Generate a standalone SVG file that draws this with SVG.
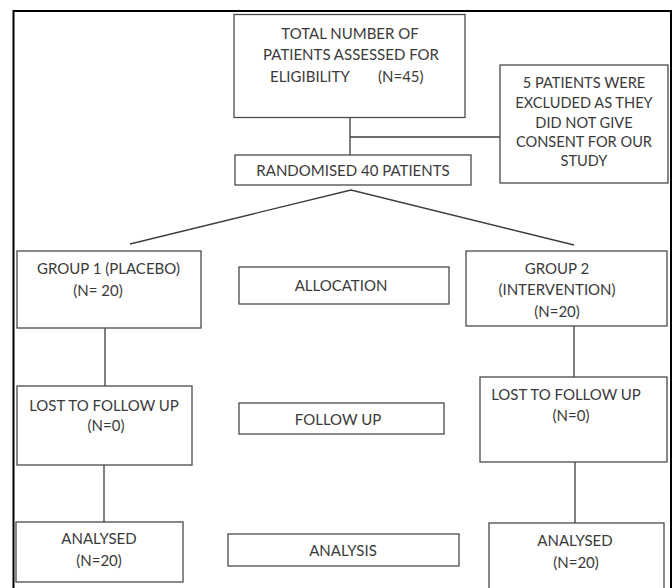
<svg xmlns="http://www.w3.org/2000/svg" width="672" height="588" viewBox="0 0 672 588">
<style>
  .box{fill:#ffffff;stroke:#4a4a4a;stroke-width:1.3}
  .t{font-family:Lato,"Liberation Sans",sans-serif;font-size:15px;fill:#3a3a3a;text-anchor:middle}
  .s{font-size:14.6px}
  .c{fill:none;stroke:#3c3c3c;stroke-width:1.3}
</style>
<rect x="0" y="0" width="672" height="588" fill="#ffffff"/>
<path d="M13.5,588 V11 H671 V588" fill="none" stroke="#000000" stroke-width="2"/>
<g id="connectors">
  <line class="c" x1="350" y1="117" x2="350" y2="155"/>
  <line class="c" x1="350" y1="137" x2="500" y2="137"/>
  <polyline class="c" points="130,244 351,190 574,245"/>
  <line class="c" x1="105" y1="328" x2="105" y2="386"/>
  <line class="c" x1="574" y1="326" x2="574" y2="377"/>
  <line class="c" x1="104" y1="465" x2="104" y2="522"/>
  <line class="c" x1="575" y1="462" x2="575" y2="523"/>
</g>
<g id="total">
  <rect class="box" x="234" y="14.5" width="231" height="103"/>
  <text class="t" x="350" y="38.5">TOTAL NUMBER OF</text>
  <text class="t" x="351" y="59.5">PATIENTS ASSESSED FOR</text>
  <text class="t" x="270" y="81.5" style="text-anchor:start">ELIGIBILITY</text>
  <text class="t" x="378" y="81.5" style="text-anchor:start">(N=45)</text>
</g>
<g id="excluded">
  <rect class="box" x="500" y="65" width="168" height="118"/>
  <text class="t s" x="584" y="87.5">5 PATIENTS WERE</text>
  <text class="t s" x="584" y="107.5">EXCLUDED AS THEY</text>
  <text class="t s" x="584" y="127.5">DID NOT GIVE</text>
  <text class="t s" x="584" y="146.5">CONSENT FOR OUR</text>
  <text class="t s" x="584" y="165.5">STUDY</text>
</g>
<g id="randomised">
  <rect class="box" x="235" y="155" width="236" height="30"/>
  <text class="t" x="353" y="175.5">RANDOMISED 40 PATIENTS</text>
</g>
<g id="group1">
  <rect class="box" x="17" y="251" width="184" height="77"/>
  <text class="t" x="108.5" y="273.5">GROUP 1 (PLACEBO)</text>
  <text class="t" x="98" y="295.5">(N= 20)</text>
</g>
<g id="allocation">
  <rect class="box" x="239" y="267" width="210" height="37"/>
  <text class="t" x="341" y="290.5">ALLOCATION</text>
</g>
<g id="group2">
  <rect class="box" x="466" y="251" width="201" height="75"/>
  <text class="t" x="557" y="273.5">GROUP 2</text>
  <text class="t" x="557" y="294.5">(INTERVENTION)</text>
  <text class="t" x="557" y="316.5">(N=20)</text>
</g>
<g id="lost1">
  <rect class="box" x="17" y="386" width="175" height="79"/>
  <text class="t" x="104" y="410.5">LOST TO FOLLOW UP</text>
  <text class="t" x="106" y="430.5">(N=0)</text>
</g>
<g id="followup">
  <rect class="box" x="239" y="403" width="205" height="31"/>
  <text class="t" x="338" y="424.5">FOLLOW UP</text>
</g>
<g id="lost2">
  <rect class="box" x="480" y="377" width="187" height="85"/>
  <text class="t" x="566" y="399.5">LOST TO FOLLOW UP</text>
  <text class="t" x="571" y="420.5">(N=0)</text>
</g>
<g id="analysed1">
  <rect class="box" x="16" y="522" width="167" height="60"/>
  <text class="t" x="99" y="543.5">ANALYSED</text>
  <text class="t" x="99" y="565.5">(N=20)</text>
</g>
<g id="analysis">
  <rect class="box" x="228" y="534" width="231" height="32"/>
  <text class="t" x="343" y="555.5">ANALYSIS</text>
</g>
<g id="analysed2">
  <rect class="box" x="489" y="523" width="175" height="70"/>
  <text class="t" x="575" y="545.5">ANALYSED</text>
  <text class="t" x="576" y="567.5">(N=20)</text>
</g>
</svg>
